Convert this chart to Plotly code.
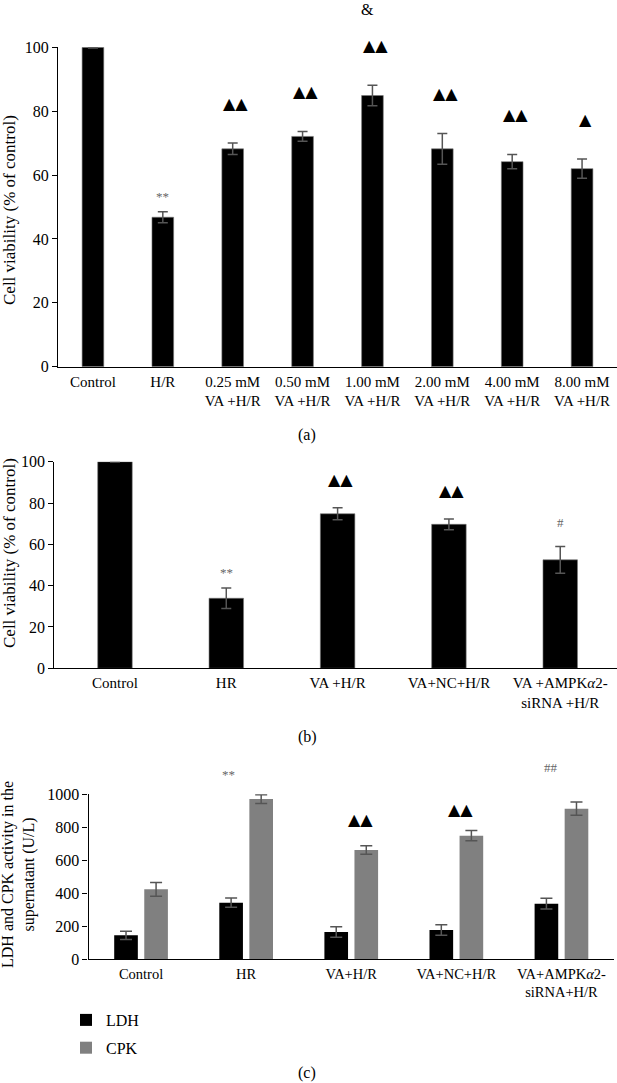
import plotly.graph_objects as go

W, H = 617, 1083

# ---------------- data ----------------
cats_a = ["Control", "H/R", "0.25 mM<br>VA +H/R", "0.50 mM<br>VA +H/R", "1.00 mM<br>VA +H/R",
          "2.00 mM<br>VA +H/R", "4.00 mM<br>VA +H/R", "8.00 mM<br>VA +H/R"]
viab_a = [100, 46.8, 68.2, 72.1, 84.9, 68.2, 64.2, 62.0]
err_a = [0.2, 1.7, 1.8, 1.5, 3.2, 4.8, 2.2, 3.0]
sig_a = ["", "**", "▲▲", "▲▲", "▲▲", "▲▲", "▲▲", "▲"]
amp_a = ["", "", "", "", "&", "", "", ""]

cats_b = ["Control", "HR", "VA +H/R", "VA+NC+H/R", "VA +AMPK<i>α</i>2-<br>siRNA +H/R"]
viab_b = [100, 33.9, 74.8, 69.7, 52.5]
err_b = [0.2, 5.0, 2.9, 2.6, 6.5]
sig_b = ["", "**", "▲▲", "▲▲", "#"]

cats_c = ["Control", "HR", "VA+H/R", "VA+NC+H/R", "VA+AMPK<i>α</i>2-<br>siRNA+H/R"]
ldh = [144, 342, 164, 176, 336]
ldh_err = [25, 28, 32, 32, 33]
cpk = [423, 971, 662, 749, 913]
cpk_err = [42, 27, 26, 31, 40]
sig_c = ["", "**", "▲▲", "▲▲", "##"]

yticks_a = [0, 20, 40, 60, 80, 100]
yticks_c = [0, 200, 400, 600, 800, 1000]

# ---------------- helpers ----------------
def px(x):
    return x / W

def py(y):
    return 1 - y / H

FONT = "Liberation Serif"
TRI = "DejaVu Sans"

fig = go.Figure()

err_style = dict(type="data", color="#555555", thickness=1.5)

# Panel a
fig.add_trace(go.Bar(x=list(range(len(cats_a))), y=viab_a, width=0.31,
                     marker=dict(color="black", line=dict(color="#777777", width=0.6)),
                     error_y=dict(array=err_a, width=5, **err_style),
                     xaxis="x", yaxis="y", showlegend=False))
# Panel b
fig.add_trace(go.Bar(x=list(range(len(cats_b))), y=viab_b, width=0.31,
                     marker=dict(color="black", line=dict(color="#777777", width=0.6)),
                     error_y=dict(array=err_b, width=5, **err_style),
                     xaxis="x2", yaxis="y2", showlegend=False))
# Panel c
fig.add_trace(go.Bar(x=list(range(len(cats_c))), y=ldh, width=0.225, offset=-0.2555,
                     name="LDH", legendgroup="ldh",
                     marker=dict(color="black", line=dict(width=0)),
                     error_y=dict(array=ldh_err, width=6, **err_style),
                     xaxis="x3", yaxis="y3"))
fig.add_trace(go.Bar(x=list(range(len(cats_c))), y=cpk, width=0.225, offset=0.0305,
                     name="CPK", legendgroup="cpk",
                     marker=dict(color="#808080", line=dict(width=0)),
                     error_y=dict(array=cpk_err, width=6, **err_style),
                     xaxis="x3", yaxis="y3"))

tickfont = dict(family=FONT, size=16, color="black")

def xax(domain, rng, cats, anchor, size=15, standoff=1):
    return dict(domain=domain, range=rng, tickmode="array",
                tickvals=list(range(len(cats))), ticktext=cats,
                showline=True, linecolor="black", linewidth=1.3, ticks="",
                showgrid=False, zeroline=False, anchor=anchor, automargin=False,
                tickfont=dict(family=FONT, size=size, color="black"),
                ticklabelstandoff=standoff, fixedrange=True)

def yax(domain, rng, vals, anchor):
    return dict(domain=domain, range=rng, tickmode="array", tickvals=vals,
                showline=True, linecolor="black", linewidth=1.2, ticks="outside",
                ticklen=5, tickcolor="black", showgrid=False, zeroline=False,
                anchor=anchor, automargin=False, tickfont=tickfont, fixedrange=True)

fig.update_layout(
    template="none",
    width=W, height=H, margin=dict(l=0, r=0, t=0, b=0, pad=0, autoexpand=False),
    paper_bgcolor="white", plot_bgcolor="white",
    xaxis=xax([px(58), 1.0], [-0.5, 7.5], cats_a, "y"),
    yaxis=yax([py(366.7), py(47.3)], [0, 100], yticks_a, "x"),
    xaxis2=xax([px(54.3), 1.0], [-0.545, 4.51], cats_b, "y2"),
    yaxis2=yax([py(668.3), py(461.7)], [0, 100], yticks_a, "x2"),
    xaxis3=xax([px(88.5), px(614)], [-0.5, 4.5], cats_c, "y3", size=14.5),
    yaxis3=yax([py(959), py(794.3)], [0, 1000], yticks_c, "x3"),
    legend=dict(x=px(66), y=py(1003), xanchor="left", yanchor="top",
                font=dict(family=FONT, size=16, color="black"),
                bgcolor="rgba(0,0,0,0)", borderwidth=0, tracegroupgap=4),
    font=dict(family=FONT, color="black"),
    showlegend=True,
)

ann = []

def mark(text, xref, yref, x, y, yshift, xshift=0):
    if text.startswith("▲"):
        f = dict(family=TRI, size=16, color="black")
    elif text == "&":
        f = dict(family=FONT, size=16, color="black")
    else:
        f = dict(family=FONT, size=13, color="#666666")
    ann.append(dict(text=text, xref=xref, yref=yref, x=x, y=y, yshift=yshift,
                    xshift=xshift, showarrow=False, font=f,
                    xanchor="center", yanchor="middle"))

# panel a marks
for i, s in enumerate(sig_a):
    if s:
        top = viab_a[i] + err_a[i]
        mark(s, "x", "y", i, top, 15 if s == "**" else 40, 3 if s.startswith("▲") else 0)
    if amp_a[i]:
        mark(amp_a[i], "x", "y", i, viab_a[i] + err_a[i], 76, -5)

# panel b marks
shift_b = {"**": 15, "▲▲": 28, "#": 24}
for i, s in enumerate(sig_b):
    if s:
        mark(s, "x2", "y2", i, viab_b[i] + err_b[i], shift_b[s], 3 if s.startswith("▲") else 0)

# panel c marks (placed above each group's tallest error bar)
shift_c = {1: (20, -18), 2: (26, 9), 3: (21, 4), 4: (35, -10)}
for i, s in enumerate(sig_c):
    if s:
        top = max(ldh[i] + ldh_err[i], cpk[i] + cpk_err[i])
        ys, xs = shift_c[i]
        mark(s, "x3", "y3", i, top, ys, xs)

# axis titles
def vtitle(text, xc, yc, size):
    ann.append(dict(text=text, xref="paper", yref="paper", x=px(xc), y=py(yc),
                    textangle=-90, showarrow=False, xanchor="center", yanchor="middle",
                    font=dict(family=FONT, size=size, color="black")))

vtitle("Cell viability (% of control)", 9, 210, 17)
vtitle("Cell viability (% of control)", 9, 553, 17)
vtitle("LDH and CPK activity in the<br>supernatant (U/L)", 19, 875, 16)

# captions
for lab, yc in (("(a)", 435), ("(b)", 737), ("(c)", 1073)):
    ann.append(dict(text=lab, xref="paper", yref="paper", x=px(307), y=py(yc),
                    showarrow=False, xanchor="center", yanchor="middle",
                    font=dict(family=FONT, size=16, color="black")))

fig.update_layout(annotations=ann)

fig.write_html("out.html", config={"displayModeBar": False},
               post_script="document.body.style.margin='0';document.body.style.padding='0';"
                           "document.documentElement.style.overflow='hidden';")
